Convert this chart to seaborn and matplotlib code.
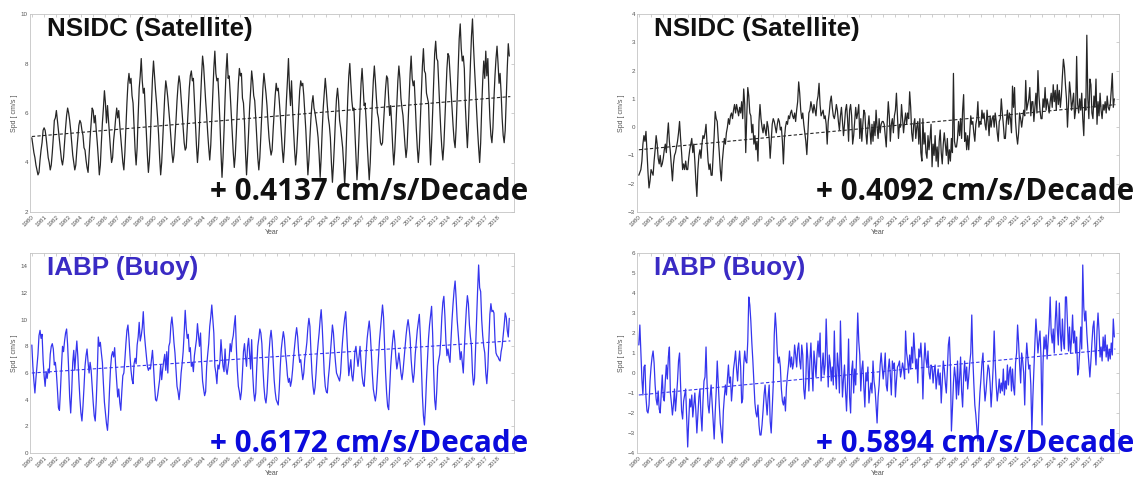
import numpy as np
import pandas as pd
import seaborn as sns
import matplotlib.pyplot as plt

sns.set_style("white")
plt.rcParams['font.family'] = ['Liberation Sans', 'DejaVu Sans']

# monthly values, one row per year (Jan..Dec), 1980-2018
years = list(range(1980, 2019))

nsidc_speed = [
    [5.0, 4.7, 4.4, 4.2, 3.9, 3.7, 3.5, 3.6, 4.1, 4.5, 4.8, 5.3],
    [5.4, 5.3, 5.0, 4.6, 4.2, 4.0, 3.7, 3.9, 4.4, 5.0, 5.7, 5.8],
    [6.1, 5.7, 5.3, 4.9, 4.5, 4.1, 3.9, 4.2, 4.8, 5.4, 5.9, 6.2],
    [6.0, 5.7, 5.3, 4.8, 4.3, 4.0, 3.7, 3.9, 4.5, 5.0, 5.5, 5.7],
    [5.6, 5.3, 5.1, 4.6, 4.5, 4.1, 3.8, 3.6, 4.3, 5.0, 5.6, 6.2],
    [6.1, 5.6, 5.9, 5.3, 4.8, 4.2, 3.5, 3.9, 4.8, 5.6, 6.2, 6.9],
    [6.4, 5.6, 6.3, 5.7, 5.1, 4.5, 4.0, 4.2, 4.9, 5.3, 5.8, 6.2],
    [5.8, 6.1, 5.5, 5.0, 4.5, 4.0, 3.7, 4.4, 5.4, 6.4, 7.2, 7.6],
    [7.2, 7.4, 6.7, 6.4, 5.4, 4.5, 3.9, 4.6, 5.9, 7.0, 7.5, 8.2],
    [7.3, 6.8, 7.0, 6.1, 5.2, 4.3, 3.6, 4.1, 5.0, 6.3, 7.4, 8.1],
    [7.5, 6.9, 6.4, 5.8, 5.1, 4.2, 3.5, 4.0, 4.9, 5.8, 6.7, 7.3],
    [7.0, 6.6, 6.1, 5.6, 5.0, 4.4, 4.0, 4.3, 5.0, 5.7, 6.5, 7.1],
    [7.5, 7.2, 6.6, 6.0, 5.4, 4.8, 4.5, 4.6, 5.4, 6.2, 7.0, 7.5],
    [7.7, 7.3, 7.4, 6.5, 5.6, 4.7, 4.0, 4.6, 5.5, 6.5, 7.5, 8.3],
    [7.9, 7.2, 6.5, 5.9, 5.2, 4.6, 4.1, 4.7, 5.7, 6.8, 7.8, 8.5],
    [7.6, 7.3, 7.4, 6.6, 5.6, 4.4, 3.4, 4.2, 5.3, 6.6, 7.7, 8.4],
    [7.4, 7.5, 6.8, 6.0, 5.2, 4.4, 3.8, 4.3, 5.2, 6.3, 7.2, 7.8],
    [7.5, 7.6, 6.6, 6.4, 5.6, 4.4, 3.5, 4.3, 5.2, 6.2, 6.9, 7.7],
    [7.3, 6.7, 6.5, 5.8, 5.0, 4.2, 3.7, 4.2, 5.1, 6.1, 7.0, 7.6],
    [7.2, 6.8, 6.3, 5.6, 5.0, 4.6, 4.3, 4.5, 5.3, 6.0, 6.7, 7.2],
    [6.9, 7.0, 6.5, 5.9, 5.2, 4.5, 4.0, 4.6, 5.6, 6.5, 7.3, 8.2],
    [7.0, 6.3, 7.3, 6.2, 5.3, 4.5, 3.9, 4.4, 5.2, 6.1, 6.9, 7.3],
    [7.1, 7.2, 6.7, 6.0, 5.3, 4.4, 3.5, 4.1, 5.0, 5.8, 6.4, 6.7],
    [6.2, 6.0, 5.7, 5.4, 5.0, 4.3, 3.4, 4.2, 5.3, 6.2, 6.8, 7.4],
    [6.9, 6.3, 5.8, 5.5, 5.0, 4.0, 3.2, 3.9, 4.8, 5.8, 6.6, 7.0],
    [6.5, 5.7, 5.4, 5.0, 4.6, 3.9, 3.1, 4.0, 5.3, 6.6, 7.5, 8.0],
    [7.2, 6.5, 6.1, 6.2, 5.2, 4.2, 3.3, 4.0, 5.1, 6.3, 7.2, 7.8],
    [7.1, 6.3, 6.4, 5.7, 4.8, 4.0, 3.3, 4.0, 5.2, 6.4, 7.3, 7.9],
    [7.3, 6.6, 6.0, 5.8, 5.3, 4.8, 4.7, 4.8, 5.6, 6.3, 7.0, 7.5],
    [7.4, 6.6, 5.9, 6.3, 5.5, 4.6, 3.9, 4.5, 5.4, 6.4, 7.3, 7.9],
    [7.4, 6.6, 6.2, 5.9, 5.3, 4.7, 4.2, 4.6, 5.6, 6.7, 7.6, 8.3],
    [7.4, 7.1, 7.3, 6.4, 5.4, 4.6, 4.0, 4.6, 5.7, 6.9, 7.9, 8.6],
    [7.7, 7.6, 6.8, 6.6, 6.4, 5.0, 3.9, 4.8, 6.0, 7.3, 8.4, 8.9],
    [8.2, 8.1, 7.1, 6.2, 5.3, 4.6, 4.1, 4.7, 5.7, 6.8, 7.8, 8.4],
    [8.3, 7.6, 6.9, 6.2, 5.5, 4.9, 4.6, 5.4, 6.6, 7.9, 9.0, 9.6],
    [8.6, 8.1, 8.3, 7.8, 6.3, 5.4, 4.6, 5.5, 6.8, 8.0, 9.1, 9.8],
    [8.7, 7.8, 7.0, 6.1, 5.3, 4.6, 4.0, 4.8, 6.2, 7.3, 8.1, 7.4],
    [8.5, 7.5, 8.2, 6.9, 5.8, 5.1, 4.8, 5.4, 6.6, 7.5, 8.2, 8.7],
    [8.0, 7.2, 7.6, 6.8, 5.8, 5.1, 4.8, 5.3, 6.6, 7.8, 8.8, 8.3],
]

nsidc_anom = [
    [-1.7, -1.6, -1.5, -1.2, -0.6, -0.3, -0.5, -0.15, -0.9, -1.6, -2.15, -1.9],
    [-1.5, -1.6, -1.7, -1.2, -0.8, -0.3, -0.6, -1.1, -1.3, -1.0, -1.4, -1.3],
    [-1.1, -0.8, -0.6, -0.9, -0.3, 0.15, -0.5, -0.9, -1.4, -1.9, -1.3, -1.0],
    [-0.9, -0.7, -0.5, -0.2, 0.2, -0.4, -0.9, -1.5, -1.3, -1.5, -1.2, -1.5],
    [-1.5, -1.1, -0.8, -0.6, -0.4, -0.9, -0.6, -1.2, -1.9, -2.45, -1.5, -1.0],
    [-0.8, -1.1, -0.6, -0.3, -0.4, -0.2, 0.1, -0.6, -1.2, -1.5, -1.3, -1.7],
    [-1.7, -1.0, -0.3, 0.55, 0.3, 0.2, -0.4, -0.9, -1.5, -1.9, -1.2, -0.8],
    [-0.4, -0.6, -0.2, 0.0, 0.3, 0.1, 0.4, 0.5, 0.3, 0.6, 0.8, 0.5],
    [0.8, 0.6, 0.4, 0.7, 0.5, 0.9, 0.3, 1.35, 0.8, -0.9, 0.4, 1.4],
    [1.1, 0.5, 0.4, -0.2, 0.1, -0.6, -0.3, -0.8, -0.5, -1.2, 0.2, 0.8],
    [0.3, 0.0, -0.2, 0.1, -0.1, -0.3, 0.2, 0.0, -0.4, -1.1, -0.5, 0.1],
    [0.3, 0.2, 0.0, -0.2, 0.1, 0.3, 0.2, -0.1, 0.0, -0.5, -1.3, -0.4],
    [0.0, 0.2, 0.1, 0.4, 0.3, 0.5, 0.6, 0.4, 0.3, 0.5, 0.2, 0.6],
    [0.9, 1.6, 1.2, 0.6, 0.3, 0.5, 0.1, -0.2, -0.5, -0.97, -0.2, 0.5],
    [0.6, 0.9, 0.7, 0.5, 0.8, 0.6, 0.4, 0.9, 1.1, 1.55, 0.8, 0.4],
    [0.5, 0.6, 0.3, 0.4, 0.1, -0.6, 0.2, 0.5, 0.9, 1.1, 0.7, 0.4],
    [0.3, 0.5, 0.8, 0.6, 0.2, -0.1, 0.4, 0.7, 0.2, -0.3, 0.1, 0.6],
    [0.8, 0.3, -0.5, 0.6, 0.8, 0.4, -0.6, -0.3, 0.2, 0.7, 0.3, 0.5],
    [0.8, -0.4, 0.3, -0.5, 0.1, 0.6, 0.5, -0.2, -0.6, 0.0, 0.4, -0.1],
    [-0.6, 0.1, -0.5, 0.2, -0.3, 0.6, 0.0, -0.4, 0.3, -0.2, 0.1, 0.2],
    [0.2, 0.1, -0.3, -0.7, 0.2, 0.9, 0.4, -0.5, 0.1, 0.3, -0.2, 0.4],
    [0.6, 1.2, 0.4, -0.4, 0.1, 0.0, 0.8, 0.3, -0.2, 0.2, 0.5, 0.1],
    [0.5, 0.3, 1.25, 0.7, -0.2, -0.5, 0.1, 0.3, -0.4, 0.0, 0.2, -0.6],
    [0.3, -0.9, -1.2, 0.3, -0.6, -0.2, -0.9, -1.1, -0.3, -0.8, -0.4, 0.1],
    [-1.4, -0.6, -1.0, -0.3, -1.2, -0.7, -1.4, -0.5, -0.1, -0.9, -1.3, -0.6],
    [-0.2, -0.6, -1.0, -0.4, -1.3, -0.8, -1.2, -0.4, -0.9, 1.9, -0.5, -0.7],
    [-0.7, -0.4, 0.2, -0.3, 0.3, -0.4, 0.6, 1.15, -0.5, -0.2, -0.8, -0.3],
    [-0.8, -0.2, 0.4, 0.1, 0.2, -0.2, -0.5, 0.1, 0.3, 0.9, 0.0, 0.2],
    [0.1, 0.6, 0.3, 0.5, 0.1, -0.1, 0.6, 0.2, -0.3, 0.4, 0.0, 0.3],
    [0.4, 0.0, 0.5, 0.2, -0.2, -0.5, 0.2, 0.3, 1.0, 0.5, 0.1, -0.4],
    [-0.4, 0.2, 0.6, 0.1, 0.5, 0.3, -0.2, 1.45, 0.7, 1.4, 0.2, -0.3],
    [-0.6, -0.2, 0.5, 0.3, 0.0, 0.3, 0.6, 0.4, 1.65, 0.6, 0.8, 1.0],
    [1.4, 0.4, 0.9, 0.9, 0.2, 0.7, 1.2, 0.5, 2.0, 1.1, 0.6, 0.3],
    [0.3, 1.0, 0.7, 1.4, 0.6, 1.0, 0.8, 0.5, 0.9, 1.2, 0.7, 1.5],
    [0.9, 1.3, 0.6, 1.5, 0.8, 1.3, 0.7, 1.1, 1.8, 2.4, 2.1, 1.5],
    [1.0, 0.0, 0.8, 1.6, 1.2, 0.6, 0.9, 1.2, 0.3, 0.6, 2.5, 0.8],
    [0.5, 1.0, 0.6, 1.2, 0.3, -0.3, 1.0, 0.6, 3.25, 1.0, 0.3, 1.7],
    [1.5, 0.5, 0.3, 1.1, 0.7, 1.7, 0.1, 0.9, 0.4, 1.2, 0.6, 0.3],
    [0.8, 0.6, 0.9, 0.5, 1.1, 0.7, 0.6, 0.8, 1.3, 1.9, 0.7, 1.0],
]

iabp_speed = [
    [8.1, 6.5, 5.4, 4.5, 5.6, 6.5, 7.4, 8.8, 9.2, 8.6, 8.9, 7.0],
    [5.8, 5.0, 6.1, 5.6, 6.3, 6.0, 7.4, 8.0, 8.2, 7.8, 6.6, 6.8],
    [6.0, 4.8, 3.4, 3.2, 4.7, 6.5, 8.0, 7.6, 8.4, 9.0, 9.3, 8.1],
    [6.3, 4.2, 3.0, 4.6, 6.8, 7.7, 6.2, 7.4, 8.4, 7.2, 5.5, 4.1],
    [3.0, 2.4, 3.5, 4.9, 6.5, 7.3, 7.8, 6.8, 6.0, 6.8, 6.2, 5.0],
    [3.8, 2.8, 2.4, 3.9, 6.0, 8.7, 8.0, 8.3, 7.5, 6.8, 5.2, 3.8],
    [3.0, 2.2, 1.7, 2.9, 4.8, 6.4, 7.3, 7.6, 7.2, 7.9, 6.5, 5.3],
    [4.2, 4.8, 3.8, 3.2, 4.6, 5.8, 6.0, 7.0, 8.2, 9.2, 9.6, 8.6],
    [7.3, 6.2, 5.5, 5.2, 6.7, 7.1, 6.7, 8.1, 8.7, 9.8, 8.4, 8.8],
    [9.4, 10.6, 9.0, 8.1, 7.3, 6.5, 6.2, 6.4, 6.3, 7.0, 7.7, 6.5],
    [5.1, 4.0, 3.9, 4.3, 4.9, 5.5, 6.6, 5.5, 6.3, 6.9, 7.4, 6.2],
    [7.6, 6.0, 8.0, 8.3, 9.6, 10.2, 9.4, 8.3, 7.5, 6.2, 5.0, 4.6],
    [4.0, 4.8, 6.0, 6.7, 7.6, 9.0, 10.7, 9.4, 8.6, 8.9, 7.6, 7.9],
    [6.5, 6.8, 6.1, 7.3, 7.9, 8.5, 9.7, 8.8, 8.0, 9.0, 6.8, 5.4],
    [4.8, 4.3, 4.6, 6.5, 7.4, 8.2, 9.5, 10.2, 11.1, 10.0, 9.0, 6.5],
    [6.0, 5.2, 6.6, 6.3, 6.9, 8.5, 7.4, 6.5, 6.1, 7.8, 6.3, 5.9],
    [6.5, 7.1, 8.2, 7.6, 8.4, 8.8, 9.6, 10.3, 8.0, 6.2, 5.0, 4.6],
    [4.0, 4.6, 6.0, 7.6, 8.2, 7.2, 6.5, 8.0, 8.6, 7.4, 6.3, 8.5],
    [6.0, 4.6, 3.9, 4.5, 6.5, 8.0, 8.6, 9.3, 9.0, 8.2, 6.4, 5.0],
    [4.1, 3.75, 4.5, 6.0, 7.5, 8.6, 9.2, 8.4, 7.0, 5.5, 4.6, 4.0],
    [3.8, 3.6, 4.8, 6.5, 7.8, 8.5, 9.1, 8.6, 7.5, 6.8, 5.8, 5.3],
    [5.6, 5.0, 5.4, 6.2, 7.2, 8.0, 8.8, 9.4, 8.7, 7.5, 6.8, 7.0],
    [6.2, 5.5, 6.0, 7.1, 7.6, 8.3, 9.4, 10.1, 9.5, 7.6, 6.0, 5.0],
    [4.4, 4.9, 6.0, 7.3, 8.2, 9.0, 10.0, 10.75, 9.5, 7.8, 6.0, 5.0],
    [4.6, 4.5, 5.6, 6.4, 7.5, 8.6, 9.6, 9.0, 7.8, 6.8, 6.0, 5.8],
    [5.6, 5.4, 6.0, 7.4, 8.5, 9.4, 10.1, 10.6, 9.0, 7.4, 5.8, 6.4],
    [7.0, 5.8, 5.4, 6.3, 7.6, 8.0, 7.2, 6.5, 7.2, 8.0, 6.8, 5.8],
    [5.2, 5.0, 6.1, 7.5, 8.6, 9.3, 9.9, 9.0, 7.6, 6.0, 4.8, 4.3],
    [3.9, 4.5, 5.8, 7.2, 8.4, 9.3, 10.2, 11.1, 10.2, 8.0, 6.0, 4.5],
    [3.5, 3.25, 4.8, 6.5, 7.6, 8.5, 9.2, 8.4, 7.2, 6.3, 6.8, 7.5],
    [6.8, 6.0, 5.5, 6.1, 7.0, 7.9, 8.8, 9.5, 10.0, 9.4, 8.6, 7.0],
    [6.0, 5.3, 6.0, 7.4, 8.3, 9.2, 9.8, 10.4, 8.8, 6.5, 4.3, 2.8],
    [2.1, 3.5, 5.5, 7.0, 8.6, 9.6, 10.3, 11.0, 9.0, 6.2, 4.0, 3.25],
    [4.6, 6.5, 7.0, 7.4, 8.5, 10.2, 11.3, 11.75, 10.3, 8.4, 7.3, 7.8],
    [7.2, 6.8, 8.5, 10.0, 11.2, 12.2, 12.9, 11.6, 10.0, 9.0, 8.0, 7.0],
    [7.6, 6.8, 6.0, 7.8, 9.4, 10.8, 11.8, 11.2, 9.6, 8.7, 8.0, 6.0],
    [5.1, 5.6, 7.8, 10.0, 12.2, 14.1, 12.4, 12.1, 10.0, 8.8, 8.0, 7.5],
    [6.0, 5.2, 6.4, 8.5, 10.4, 11.2, 10.6, 10.7, 10.5, 8.5, 7.5, 7.3],
    [7.2, 7.0, 6.9, 7.6, 8.0, 8.8, 9.6, 10.5, 10.2, 9.2, 8.7, 10.1],
]

iabp_anom = [
    [1.4, 2.4, 1.0, -0.3, -1.1, 0.3, 0.4, -1.2, -1.9, -2.0, -1.6, -0.4],
    [0.3, 0.8, 1.1, 0.5, -0.6, -1.3, -1.6, -0.9, -1.8, -2.0, -1.0, -0.1],
    [-1.2, -1.4, -0.4, 0.4, -0.3, 0.8, 1.3, -1.0, -1.5, -2.1, -1.6, -0.8],
    [-1.9, -1.2, -0.4, 0.6, 1.0, -0.6, -1.9, -2.3, -1.4, -1.1, -0.8, -2.2],
    [-3.7, -2.4, -1.3, -1.7, -1.1, -2.2, -1.6, -1.0, -1.9, -3.0, -2.1, -1.2],
    [-0.8, -2.1, -2.9, -1.4, -0.4, -0.2, 1.3, -0.5, -1.6, -2.0, -1.2, -0.6],
    [-1.5, -2.4, -3.3, -2.0, -0.9, 0.6, -0.5, -1.6, -2.5, -3.0, -3.5, -1.9],
    [-1.2, -0.6, -1.1, -0.3, 0.4, -0.5, -0.2, -1.4, -0.7, 0.2, 0.6, 1.1],
    [0.2, -0.4, 0.5, 1.1, 0.3, -1.5, -1.3, 0.4, 1.1, 0.6, 0.5, 1.6],
    [3.8, 3.4, 2.6, 1.5, 0.6, -0.4, -1.5, -2.0, -2.2, -1.6, -2.6, -3.1],
    [-3.1, -2.6, -1.9, -1.1, -0.6, -1.4, -2.1, -1.2, -0.6, -2.4, -3.0, -1.8],
    [-0.6, 1.9, 3.0, 2.2, 1.0, 0.5, 0.8, 0.3, -0.8, -1.4, -1.6, -1.2],
    [-1.9, -0.7, -0.1, 0.4, 1.1, 0.3, 0.8, 0.2, 0.5, 1.4, 0.9, 0.3],
    [1.2, 1.5, 0.6, 0.2, 1.4, 0.9, -0.8, -1.3, -0.4, 1.5, 0.7, -0.9],
    [0.6, 1.5, 0.2, -0.9, 1.1, 0.5, -0.2, 0.9, 1.6, 0.8, 2.0, -0.4],
    [0.3, 1.0, -0.1, 0.4, 2.7, 1.0, -0.7, 0.9, 0.5, -0.4, 0.3, -0.6],
    [2.1, 0.0, -0.8, 1.0, 0.3, -1.0, 2.6, 0.5, -1.2, -0.3, 0.4, -0.9],
    [-1.9, -0.4, 1.7, -1.2, -2.0, 0.1, 0.6, -1.0, 0.2, -0.6, 1.1, 3.0],
    [1.6, 0.9, -0.9, 0.2, 0.6, -0.7, -1.7, 0.0, -0.4, 0.3, -1.5, -0.9],
    [-0.5, -1.0, 0.6, -0.4, -0.8, -1.6, -2.5, -1.2, -0.6, 0.4, 1.0, 0.3],
    [-0.3, 0.2, 1.0, -0.6, -0.9, 0.2, 0.7, -0.1, -1.1, 0.6, 0.2, 0.5],
    [-1.2, -0.4, 0.3, 0.4, 0.6, -0.2, 0.1, 0.5, 0.2, -0.3, 2.1, 1.0],
    [0.6, 0.0, 0.9, 0.2, 1.3, 0.5, 2.0, 1.1, 0.2, 0.7, -0.5, 1.2],
    [0.8, 1.5, 0.6, -1.3, 0.5, 1.5, 0.7, 0.3, 1.1, 0.0, -0.3, 0.4],
    [0.3, -0.5, 0.1, 0.4, -0.8, -0.2, 0.2, -0.6, 0.0, -1.5, -0.4, 0.6],
    [0.2, -0.5, -1.0, 0.1, 1.4, 1.8, 0.4, -2.9, -1.8, -0.5, 0.3, -0.2],
    [-1.3, 0.6, -1.1, -0.3, 0.8, -0.9, -1.7, -0.2, 0.6, -0.4, 0.3, -0.8],
    [-0.2, 0.5, 1.0, 2.9, 0.8, -0.5, -1.6, -2.1, -2.8, -3.4, -2.0, -1.0],
    [-0.3, 0.5, 1.0, -0.5, -1.4, -0.9, -0.2, 0.4, 0.2, -0.5, -1.7, -0.8],
    [0.3, 2.1, 0.5, -0.6, -1.4, -0.9, -0.3, -1.0, -0.5, -0.9, 0.2, -1.1],
    [-0.4, -0.8, 0.4, -0.6, 0.1, 0.3, -0.9, 0.2, -0.7, -1.1, 0.5, 1.0],
    [2.4, 1.5, 0.4, -0.5, 1.0, 0.6, 0.0, -1.6, 0.5, 1.5, 0.8, 0.2],
    [0.4, -0.6, -3.0, -1.2, 0.2, 1.5, 2.7, 1.9, 1.0, 1.6, 2.1, 0.8],
    [-2.6, 0.5, 1.8, 1.2, 1.9, 0.7, 1.6, 2.4, 3.8, 2.0, 1.5, 2.2],
    [1.0, 2.6, 3.6, 2.2, 1.4, 3.5, 2.0, 1.1, 2.7, 1.6, 1.2, 3.8],
    [3.8, 2.4, 1.1, 2.3, 1.0, 1.7, 2.9, 1.5, 2.1, 1.0, 1.8, -0.1],
    [0.2, 1.1, 2.3, 1.2, 5.4, 3.3, 2.6, 3.1, 2.0, 1.2, 0.5, -0.2],
    [0.6, 1.5, 2.3, 2.6, 1.3, 0.4, 2.1, 3.0, 2.1, 0.8, 1.3, 0.6],
    [1.8, 1.1, 1.9, 0.8, 1.4, 0.6, 1.2, 0.7, 1.5, 0.9, 2.7, 1.8],
]

panel_data = [nsidc_speed, nsidc_anom, iabp_speed, iabp_anom]
trend_rate = [0.4137, 0.4092, 0.6172, 0.5894]     # cm/s per decade
trend_start = [5.05, -0.8, 6.0, -1.1]             # trend value at 1980
panel_names = ['NSIDC (Satellite)', 'NSIDC (Satellite)', 'IABP (Buoy)', 'IABP (Buoy)']
y_limits = [(2, 10), (-3, 4), (0, 15), (-4, 6)]
y_ticks = [range(2, 11, 2), range(-3, 5), range(0, 15, 2), range(-4, 7)]

for rows in panel_data:
    assert len(rows) == len(years) and all(len(r) == 12 for r in rows)

# figure layout (pixels of a 1139x479 canvas)
fig = plt.figure(figsize=(11.39, 4.79), dpi=100)
W, H = 1139, 479
boxes = [(30, 14, 484, 198), (637, 14, 482, 198), (30, 253, 484, 200), (637, 253, 482, 200)]
line_colors = ['#262626', '#262626', '#3535ee', '#3535ee']
name_colors = ['#111111', '#111111', '#3a2bc4', '#3a2bc4']
rate_colors = ['#111111', '#111111', '#0b0bdc', '#0b0bdc']
rate_y = [0.06, 0.06, 0.005, 0.005]

for i in range(4):
    x0, y0, w, h = boxes[i]
    ax = fig.add_axes([x0 / W, (H - y0 - h) / H, w / W, h / H])

    vals = np.concatenate([np.array(r, dtype=float) for r in panel_data[i]])
    t = years[0] + np.arange(len(vals)) / 12.0
    df = pd.DataFrame({'time': t, 'spd': vals})
    sns.lineplot(data=df, x='time', y='spd', ax=ax, color=line_colors[i],
                 linewidth=0.9, estimator=None)

    tr = pd.DataFrame({'time': [1980.0, 2019.0]})
    tr['spd'] = trend_start[i] + trend_rate[i] * (tr['time'] - 1980.0) / 10.0
    sns.lineplot(data=tr, x='time', y='spd', ax=ax, color=line_colors[i],
                 linewidth=0.8, linestyle=(0, (3, 2)), estimator=None)

    ax.set_xlim(1979.85, 2019.3)
    ax.set_ylim(*y_limits[i])
    ax.set_yticks(list(y_ticks[i]))
    ax.set_xticks(years)
    ax.set_xticklabels([str(y) for y in years], rotation=45, ha='right',
                       rotation_mode='anchor')
    ax.tick_params(axis='both', labelsize=4.5, labelcolor='#555555', direction='in',
                   length=2, width=0.4, color='#aaaaaa', top=True, right=True, pad=1.5)
    for sp in ax.spines.values():
        sp.set_color('#c4c4c4')
        sp.set_linewidth(0.6)
    ax.set_xlabel('Year', fontsize=5, color='#555555', labelpad=1)
    ax.set_ylabel('Spd [ cm/s ]', fontsize=5, color='#555555', labelpad=2)

    ax.text(0.035, 0.985, panel_names[i], transform=ax.transAxes, fontsize=18.7,
            fontweight='bold', color=name_colors[i], va='top', ha='left')
    ax.text(0.371, rate_y[i], f'+ {trend_rate[i]:.4f} cm/s/Decade', transform=ax.transAxes,
            fontsize=21.3, fontweight='bold', color=rate_colors[i], va='baseline',
            ha='left', family=['Open Sans', 'Roboto', 'DejaVu Sans'])

fig.savefig('out.png', dpi=100)
